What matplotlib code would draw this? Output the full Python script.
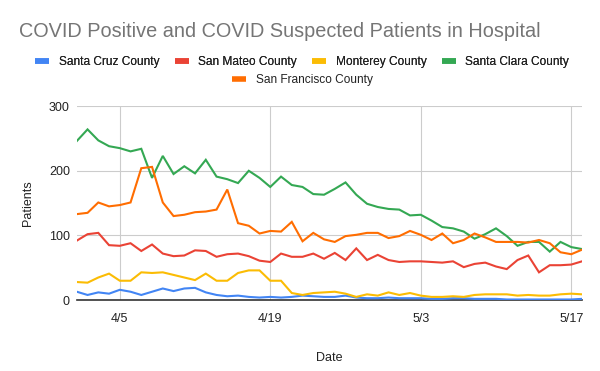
import matplotlib.pyplot as plt
from matplotlib.lines import Line2D
import numpy as np
import pandas as pd

plt.rcParams['font.family'] = ['Liberation Sans', 'DejaVu Sans']

# daily counts, 4/1 .. 5/18
dates = pd.date_range('2020-04-01', '2020-05-18', freq='D')

santa_cruz = [13, 8, 12, 10, 16, 13, 8, 13, 18, 14, 18, 19, 12, 8, 6, 7, 5, 4, 5, 4, 5, 7, 6, 5,
              5, 7, 4, 3, 3, 4, 3, 3, 3, 2, 2, 3, 3, 2, 2, 2, 1, 1, 1, 1, 1, 1, 1, 2]
san_mateo = [92, 102, 104, 85, 84, 88, 76, 86, 72, 68, 69, 77, 76, 67, 71, 72, 68, 61, 59, 72, 67, 67, 72, 64,
             73, 62, 80, 62, 70, 62, 59, 60, 60, 59, 58, 60, 51, 56, 58, 52, 48, 62, 69, 43, 54, 54, 55, 60]
monterey = [28, 27, 35, 41, 30, 30, 43, 42, 43, 39, 35, 31, 41, 30, 30, 42, 46, 46, 30, 30, 11, 8, 11, 12,
            13, 10, 5, 9, 7, 12, 8, 11, 7, 5, 5, 6, 5, 8, 9, 9, 9, 7, 8, 7, 7, 9, 10, 9]
santa_clara = [246, 264, 247, 238, 235, 230, 234, 189, 223, 195, 207, 196, 217, 191, 187, 181, 200, 189, 175, 191, 178, 175, 164, 163,
               172, 182, 163, 149, 144, 141, 140, 131, 132, 123, 113, 111, 106, 95, 102, 111, 99, 84, 90, 90, 75, 90, 82, 79]
san_francisco = [133, 135, 151, 145, 147, 151, 204, 206, 151, 130, 132, 136, 137, 140, 171, 119, 115, 103, 107, 106, 121, 91, 104, 94,
                 90, 99, 101, 104, 104, 96, 99, 107, 101, 93, 103, 88, 93, 103, 97, 90, 90, 90, 89, 93, 88, 74, 71, 78]

names = ['Santa Cruz County', 'San Mateo County', 'Monterey County', 'Santa Clara County', 'San Francisco County']
colors = ['#4285F4', '#EA4335', '#FBBC04', '#34A853', '#FF6D01']
series = [santa_cruz, san_mateo, monterey, santa_clara, san_francisco]

tick_dates = pd.to_datetime(['2020-04-05', '2020-04-19', '2020-05-03', '2020-05-17'])
tick_labels = ['4/5', '4/19', '5/3', '5/17']

fig = plt.figure(figsize=(6, 3.71), dpi=100)
ax = fig.add_axes([0.128, 0.191, 0.842, 0.523])

for vals, c in zip(series, colors):
    ax.plot(dates, vals, color=c, lw=1.5, solid_joinstyle='miter')

ax.set_xlim(dates[0], dates[-1])
ax.set_ylim(0, 300)
ax.set_yticks([0, 100, 200, 300])
ax.set_xticks(tick_dates)
ax.set_xticklabels(tick_labels)
ax.grid(True, color='#cccccc', lw=0.8)
ax.set_axisbelow(True)
for s in ['top', 'right', 'left']:
    ax.spines[s].set_visible(False)
ax.spines['bottom'].set_color('#333333')
ax.spines['bottom'].set_linewidth(1.2)
ax.spines['bottom'].set_zorder(1.5)
ax.tick_params(length=0, labelsize=9, colors='#222222', pad=5)
ax.tick_params(axis='x', pad=9)
ax.set_xlabel('Date', fontsize=9, color='#222222', labelpad=20)
ax.set_ylabel('Patients', fontsize=9, color='#222222', labelpad=11)

fig.text(0.032, 0.915, 'COVID Positive and COVID Suspected Patients in Hospital',
         fontsize=14.3, color='#757575', va='center', ha='left')

handles = [Line2D([0], [0], color=c, lw=4, solid_capstyle='butt') for c in colors]
leg1 = fig.legend(handles[:4], names[:4], loc='center', bbox_to_anchor=(0.504, 0.833), ncol=4,
                  frameon=False, fontsize=8.6, handlelength=1.15, handletextpad=0.8, columnspacing=1.3)
for t in leg1.get_texts():
    t.set_color('#222222')
leg2 = fig.legend(handles[4:], names[4:], loc='center', bbox_to_anchor=(0.504, 0.785),
                  frameon=False, fontsize=8.6, handlelength=1.15, handletextpad=0.8)
for t in leg2.get_texts():
    t.set_color('#222222')
fig.add_artist(leg1)

fig.savefig('out.png', dpi=100)
